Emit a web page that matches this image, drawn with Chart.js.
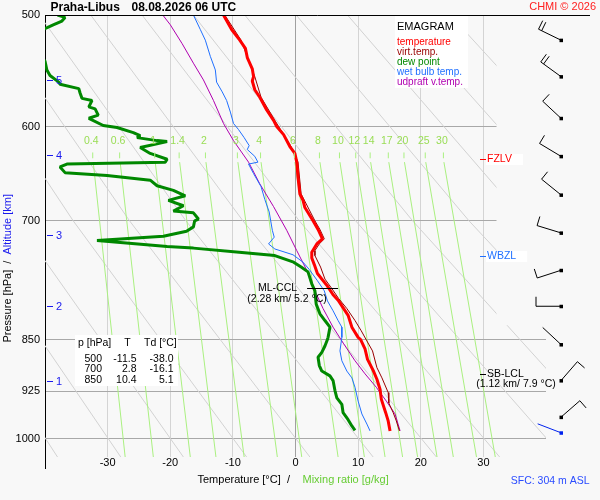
<!DOCTYPE html>
<html>
<head>
<meta charset="utf-8">
<script src="https://cdn.jsdelivr.net/npm/chart.js@4.4.1/dist/chart.umd.min.js"></script>
<style>
  html, body { margin: 0; padding: 0; background: #f8f8f8; }
  canvas { display: block; }
</style>
</head>
<body>
<canvas id="emagram" width="600" height="500"></canvas>
<script>
// axis ticks
let pressureTicks = [500, 600, 700, 850, 925, 1000];
let tempTicks = [-30, -20, -10, 0, 10, 20, 30];

// sounding: temperature
let tempPres = [500, 512, 521, 528, 536, 546, 553, 557, 565, 572, 584, 594, 600, 608, 620, 627, 636, 652, 670, 677, 685, 700, 710, 721, 727, 737, 744, 752, 763, 779, 790, 797, 817, 833, 847, 850, 863, 878, 894, 907, 922, 937, 958, 971, 987];
let tempVals = [-11.5, -10.2, -8.9, -8.0, -7.7, -6.9, -6.7, -6.9, -6.5, -5.7, -4.6, -3.5, -3.0, -1.9, -0.9, -0.1, 0.2, 0.4, 0.7, 1.2, 1.5, 2.8, 3.6, 4.3, 3.4, 2.6, 2.6, 3.0, 3.5, 5.1, 6.0, 6.8, 8.4, 9.0, 10.0, 10.4, 11.1, 11.5, 12.4, 13.0, 13.5, 13.7, 14.4, 14.8, 15.1];

// virtual temperature
let virtPres = [500, 521, 553, 572, 594, 620, 636, 670, 700, 710, 721, 727, 735, 741, 755, 770, 782, 795, 808, 824, 838, 852, 866, 890, 905, 927, 943, 958, 971, 987];
let virtVals = [-11.3, -8.7, -6.5, -5.5, -3.3, -0.7, 0.4, 0.9, 3.1, 3.9, 4.6, 3.8, 3.1, 3.1, 4.0, 4.7, 5.8, 6.9, 8.2, 9.5, 10.5, 11.4, 12.3, 13.0, 13.8, 14.8, 14.9, 15.6, 16.1, 16.6];

// dew point
let dewPres = [500, 502, 505, 508, 516, 530, 539, 547, 552, 558, 560, 564, 568, 573, 575, 581, 583, 589, 592, 599, 601, 606, 609, 611, 614, 615, 621, 627, 633, 636, 638, 641, 647, 650, 655, 661, 666, 672, 677, 683, 689, 691, 698, 700, 707, 712, 718, 723, 730, 732, 737, 741, 749, 755, 761, 776, 785, 802, 815, 824, 833, 847, 850, 859, 868, 875, 887, 895, 902, 909, 924, 935, 945, 958, 969, 979, 986];
let dewVals = [-38.0, -36.8, -37.3, -38.6, -42, -43, -40.0, -39.7, -39.2, -37.8, -37.6, -34.6, -34.4, -34.1, -32.5, -33.0, -32.0, -31.5, -33.0, -30.7, -28.5, -25.9, -24.8, -25.3, -22.1, -20.5, -24.8, -23.2, -20.5, -20.8, -36.5, -37.6, -36.8, -30.1, -23.2, -22.1, -19.5, -17.6, -20.3, -17.9, -19.5, -16.3, -15.5, -16.1, -16.3, -17.4, -21.1, -31.7, -20.5, -16.3, -9.0, -3.3, -0.3, 0.9, 2.0, 2.6, 3.1, 3.3, 3.9, 4.7, 5.5, 5.2, 5.1, 4.7, 4.2, 3.6, 3.8, 4.2, 5.5, 6.0, 6.3, 6.6, 7.4, 7.6, 8.4, 9.0, 9.5];

// wet bulb temperature
let wetPres = [500, 512, 521, 535, 547, 558, 567, 575, 586, 597, 603, 611, 619, 623, 630, 636, 638, 648, 662, 676, 690, 711, 719, 727, 733, 740, 749, 758, 772, 785, 798, 811, 824, 833, 847, 866, 880, 895, 905, 919, 940, 960, 976, 987];
let wetVals = [-16.3, -15.2, -14.4, -13.6, -12.8, -12.6, -11.7, -11.0, -10.4, -9.9, -9.1, -8.2, -7.4, -7.7, -6.5, -6.0, -7.5, -6.7, -5.5, -4.9, -4.2, -3.7, -3.4, -4.3, -3.3, -0.4, 1.2, 2.2, 3.5, 4.6, 5.1, 6.0, 6.8, 7.4, 7.4, 7.1, 7.4, 8.2, 9.0, 9.5, 10.0, 10.6, 11.4, 11.9];

// updraft virtual temperature
let parcelPres = [500, 508, 524, 541, 556, 575, 597, 614, 636, 659, 684, 711, 735, 759, 785, 808, 833, 856, 880, 899, 919, 940, 960, 987];
let parcelVals = [-21.2, -20.0, -18.1, -16.3, -14.7, -13.1, -11.5, -9.9, -7.5, -5.7, -3.5, -1.4, 0.2, 1.8, 3.1, 4.4, 6.0, 7.7, 9.5, 11.1, 12.9, 14.5, 15.9, 16.7];

// mixing ratio lines (g/kg), temperature where each line starts and ends
let mixRatios = [0.4, 0.6, 1, 1.4, 2, 3, 4, 6, 8, 10, 12, 14, 17, 20, 25, 30];
let mixTop = [-32.3, -28.0, -22.4, -18.5, -14.3, -9.2, -5.5, -0.1, 3.9, 7.1, 9.7, 12.0, 14.9, 17.4, 20.8, 23.7];
let mixBottom = [-27.2, -22.7, -16.8, -12.7, -8.2, -2.9, 1.0, 6.8, 11.0, 14.3, 17.1, 19.5, 22.6, 25.2, 28.9, 31.9];
const mixTopPres = 636, mixBottomPres = 1030, mixLabelPres = 615;

// dry adiabats, temperature at 500, 700 and 1030 hPa
let dryPres = [500, 700, 1030];
let dry500 = [-81.9, -73.7, -65.5, -57.3, -49.1, -40.9, -32.7, -24.5, -16.3, -8.1, 0.1, 8.3, 16.5, 24.7];
let dry700 = [-62.6, -53.6, -44.5, -35.5, -26.5, -17.5, -8.4, 0.6, 9.6, 18.7, 27.7, 36.7, 45.8, 54.8];
let dry1030 = [-38.0, -27.9, -17.9, -7.8, 2.3, 12.4, 22.5, 32.6, 42.7, 52.8, 62.9, 73.0, 83.1, 93.2];

// wind (direction deg, speed kt)
let windPres = [521, 553, 592, 630, 671, 714, 759, 805, 857, 909, 965];
let windDir = [296, 306, 313, 301, 309, 287, 252, 270, 313, 41, 49];
let windSpd = [20, 20, 10, 10, 10, 10, 10, 10, 3, 10, 10];
const sfcPres = 990, sfcDir = 291, sfcSpd = 2;

// altitude marks (km)
let altKm = [1, 2, 3, 4, 5];
let altPres = [910, 805, 716, 629, 556];

// table
let tableP = [500, 700, 850];
let tableT = [-11.5, 2.8, 10.4];
let tableTd = [-38.0, -16.1, 5.1];

const bgColor = '#f8f8f8';
const FONT = "'Liberation Sans', Arial, sans-serif";
Chart.defaults.font.family = FONT;

function pairs(pres, vals) {
    return pres.map((p, i) => ({ x: vals[i], y: p }));
}

function curve(pres, vals, color, width) {
    return {
        data: pairs(pres, vals),
        borderColor: color,
        borderWidth: width,
        borderJoinStyle: 'bevel',
        pointRadius: 0,
        showLine: true,
        clip: 0
    };
}

let datasets = [
    curve(tempPres, tempVals, '#ff0000', 3),
    curve(dewPres, dewVals, '#008800', 3),
    curve(virtPres, virtVals, '#990000', 1),
    curve(wetPres, wetVals, '#2070ff', 1),
    curve(parcelPres, parcelVals, '#b000b0', 1)
];
mixRatios.forEach((w, i) => {
    datasets.push(curve([mixTopPres, mixBottomPres], [mixTop[i], mixBottom[i]], '#aaf080', 1));
});
dry500.forEach((t, i) => {
    datasets.push(curve(dryPres, [dry500[i], dry700[i], dry1030[i]], '#d2d2d2', 1));
});

function drawBarb(ctx, x, y, dir, spd, color) {
    const rad = dir * Math.PI / 180;
    const dx = Math.sin(rad), dy = -Math.cos(rad);
    const tx = x + dx * 25, ty = y + dy * 25;
    const fx = -dy, fy = dx;
    ctx.strokeStyle = color;
    ctx.lineWidth = 1;
    ctx.beginPath();
    ctx.moveTo(x, y);
    ctx.lineTo(tx, ty);
    let s = spd, pos = 0;
    while (s >= 10) {
        const bx = tx - dx * pos, by = ty - dy * pos;
        ctx.moveTo(bx, by);
        ctx.lineTo(bx + fx * 9.5, by + fy * 9.5);
        pos += 3.5;
        s -= 10;
    }
    if (s >= 5) {
        const bx = tx - dx * pos, by = ty - dy * pos;
        ctx.moveTo(bx, by);
        ctx.lineTo(bx + fx * 5, by + fy * 5);
    }
    ctx.stroke();
    ctx.fillStyle = color;
    ctx.fillRect(x - 1.5, y - 1.5, 3.5, 3.5);
}

function levelLabel(ctx, x0, y, text, color) {
    ctx.font = '10.5px ' + FONT;
    const w = ctx.measureText(text).width;
    ctx.fillStyle = '#ffffff';
    ctx.fillRect(x0 + 6, y - 5, w + 12, 11);
    ctx.strokeStyle = color;
    ctx.beginPath();
    ctx.moveTo(x0, y + 0.5);
    ctx.lineTo(x0 + 6, y + 0.5);
    ctx.stroke();
    ctx.fillStyle = color;
    ctx.textAlign = 'left';
    ctx.fillText(text, x0 + 7, y + 0.5);
}

const decor = {
    id: 'decor',
    beforeDraw(chart) {
        const ctx = chart.ctx;
        ctx.save();
        ctx.fillStyle = bgColor;
        ctx.fillRect(0, 0, chart.width, chart.height);
        ctx.restore();
    },
    afterDatasetsDraw(chart) {
        const { ctx, chartArea: a, scales: { x, y } } = chart;
        ctx.save();
        ctx.textBaseline = 'middle';

        // upper part of the diagram stops at 32 °C
        const xr = Math.round(x.getPixelForValue(32)) + 0.5;
        ctx.fillStyle = bgColor;
        ctx.fillRect(xr, a.top + 1, a.right - xr + 2, y.getPixelForValue(829) - a.top);

        // top border and axis extension
        ctx.strokeStyle = '#000';
        ctx.lineWidth = 1;
        ctx.beginPath();
        ctx.moveTo(a.left, Math.round(a.top) + 0.5);
        ctx.lineTo(590, Math.round(a.top) + 0.5);
        ctx.moveTo(Math.round(a.left) + 0.5, a.bottom);
        ctx.lineTo(Math.round(a.left) + 0.5, a.bottom + 12);
        ctx.stroke();

        // mixing ratio labels
        ctx.font = '10.5px ' + FONT;
        ctx.textAlign = 'center';
        mixRatios.forEach((w, i) => {
            const px = x.getPixelForValue(mixTop[i]);
            ctx.fillStyle = '#99dd55';
            ctx.fillText(String(w), px - 2, y.getPixelForValue(mixLabelPres));
            ctx.strokeStyle = '#aaf080';
            ctx.beginPath();
            ctx.moveTo(px - 0.5, y.getPixelForValue(626));
            ctx.lineTo(px - 0.5, y.getPixelForValue(632));
            ctx.stroke();
        });

        // altitude marks
        ctx.textAlign = 'left';
        ctx.font = '11px ' + FONT;
        altKm.forEach((k, i) => {
            const py = Math.round(y.getPixelForValue(altPres[i])) + 0.5;
            ctx.strokeStyle = '#1a1aee';
            ctx.fillStyle = '#1a1aee';
            ctx.beginPath();
            ctx.moveTo(a.left + 2, py);
            ctx.lineTo(a.left + 8, py);
            ctx.stroke();
            ctx.fillText(String(k), a.left + 11, py);
        });

        // legend box
        ctx.fillStyle = '#ffffff';
        ctx.fillRect(395, 16, 73, 72);
        ctx.fillStyle = '#000';
        ctx.font = '11px ' + FONT;
        ctx.fillText('EMAGRAM', 397, 26.5);
        const legendItems = [['temperature', '#ff0000'], ['virt.temp.', '#990000'], ['dew point', '#008800'], ['wet bulb temp.', '#2070ff'], ['udpraft v.temp.', '#b000b0']];
        ctx.font = '10px ' + FONT;
        legendItems.forEach((it, i) => {
            ctx.fillStyle = it[1];
            ctx.fillText(it[0], 397, 42.5 + i * 9.9);
        });

        // table box
        ctx.fillStyle = '#ffffff';
        ctx.fillRect(75, 335, 103, 51);
        ctx.fillStyle = '#000';
        ctx.font = '10.5px ' + FONT;
        ctx.textAlign = 'left';
        ctx.fillText('p [hPa]', 78, 343.5);
        ctx.fillText('Td [°C]', 144, 343.5);
        ctx.textAlign = 'center';
        ctx.fillText('T', 127.5, 343.5);
        ctx.textAlign = 'right';
        tableP.forEach((p, i) => {
            const ty = 359 + i * 10.5;
            ctx.fillText(String(p), 102, ty);
            ctx.fillText(tableT[i].toFixed(1), 136.5, ty);
            ctx.fillText(tableTd[i].toFixed(1), 173.5, ty);
        });

        // ML-CCL
        const cx = x.getPixelForValue(5.2), cy = Math.round(y.getPixelForValue(781)) + 0.5;
        ctx.strokeStyle = '#000';
        ctx.beginPath();
        ctx.moveTo(cx - 21, cy);
        ctx.lineTo(cx + 10, cy);
        ctx.stroke();
        ctx.fillStyle = '#000';
        ctx.textAlign = 'right';
        ctx.fillText('ML-CCL', cx - 31, cy);
        ctx.textAlign = 'center';
        ctx.fillText('(2.28 km/ 5.2 °C)', cx - 41, cy + 10.5);

        // level marks at the right edge
        const lx = Math.round(x.getPixelForValue(32)) - 16;
        levelLabel(ctx, lx, Math.round(y.getPixelForValue(633)), 'FZLV', '#ff0000');
        levelLabel(ctx, lx, Math.round(y.getPixelForValue(742)), 'WBZL', '#2070ff');
        const sy = Math.round(y.getPixelForValue(899));
        ctx.strokeStyle = '#000';
        ctx.beginPath();
        ctx.moveTo(lx, sy + 0.5);
        ctx.lineTo(lx + 6, sy + 0.5);
        ctx.stroke();
        ctx.fillStyle = '#000';
        ctx.textAlign = 'left';
        ctx.fillText('SB-LCL', lx + 7, sy + 0.5);
        ctx.textAlign = 'center';
        ctx.fillText('(1.12 km/ 7.9 °C)', lx + 36, sy + 10.5);

        // wind barbs
        windPres.forEach((p, i) => {
            drawBarb(ctx, 561, y.getPixelForValue(p), windDir[i], windSpd[i], '#000');
        });
        drawBarb(ctx, 561, y.getPixelForValue(sfcPres), sfcDir, sfcSpd, '#0022ee');

        // titles
        ctx.textAlign = 'left';
        ctx.fillStyle = '#000';
        ctx.font = 'bold 12px ' + FONT;
        ctx.fillText('Praha-Libus', 50.5, 7.5);
        ctx.fillText('08.08.2026 06 UTC', 131.5, 7.5);
        ctx.font = '11px ' + FONT;
        ctx.textAlign = 'right';
        ctx.fillStyle = '#ff2020';
        ctx.fillText('CHMI © 2026', 596, 7);

        // x axis title
        ctx.textAlign = 'left';
        ctx.fillStyle = '#000';
        ctx.fillText('Temperature [°C]  /', 197.5, 479.5);
        ctx.fillStyle = '#66cc33';
        ctx.fillText('Mixing ratio [g/kg]', 302.5, 479.5);

        ctx.font = '10.5px ' + FONT;
        ctx.textAlign = 'right';
        ctx.fillStyle = '#2a4cff';
        ctx.fillText('SFC: 304 m ASL', 589.5, 481.5);

        // y axis title
        ctx.save();
        ctx.translate(8, 342.5);
        ctx.rotate(-Math.PI / 2);
        ctx.font = '11px ' + FONT;
        ctx.textAlign = 'left';
        ctx.fillStyle = '#000';
        const part1 = 'Pressure [hPa]  /  ';
        ctx.fillText(part1, 0, 0);
        ctx.fillStyle = '#1a1aee';
        ctx.fillText('Altitude [km]', ctx.measureText(part1).width, 0);
        ctx.restore();

        ctx.restore();
    }
};

const config = {
    type: 'scatter',
    data: { datasets: datasets },
    options: {
        responsive: false,
        animation: false,
        events: [],
        layout: { padding: { top: 15, right: 54, bottom: 0, left: 0 } },
        plugins: {
            legend: { display: false },
            tooltip: { enabled: false },
            title: { display: false }
        },
        scales: {
            x: {
                type: 'linear',
                min: -40,
                max: 40,
                afterBuildTicks: scale => { scale.ticks = tempTicks.map(v => ({ value: v })); },
                afterFit: scale => { scale.height = 43; },
                grid: {
                    drawTicks: false,
                    color: ctx => (ctx.tick && ctx.tick.value === 0) ? '#a0a0a0' : '#d4d4d4'
                },
                border: { display: false },
                ticks: {
                    padding: -1,
                    color: '#000',
                    font: { size: 11 },
                    maxRotation: 0,
                    callback: v => String(v)
                }
            },
            y: {
                type: 'logarithmic',
                reverse: true,
                min: 500,
                max: 1030,
                afterBuildTicks: scale => { scale.ticks = pressureTicks.map(v => ({ value: v })); },
                afterFit: scale => { scale.width = 45; },
                grid: { drawTicks: false, color: '#a8a8a8' },
                border: { display: true, color: '#000', width: 1 },
                ticks: {
                    padding: 5,
                    color: '#000',
                    font: { size: 11 },
                    callback: v => String(v)
                }
            }
        }
    },
    plugins: [decor]
};

const chart = new Chart(document.getElementById('emagram'), config);
</script>
</body>
</html>
